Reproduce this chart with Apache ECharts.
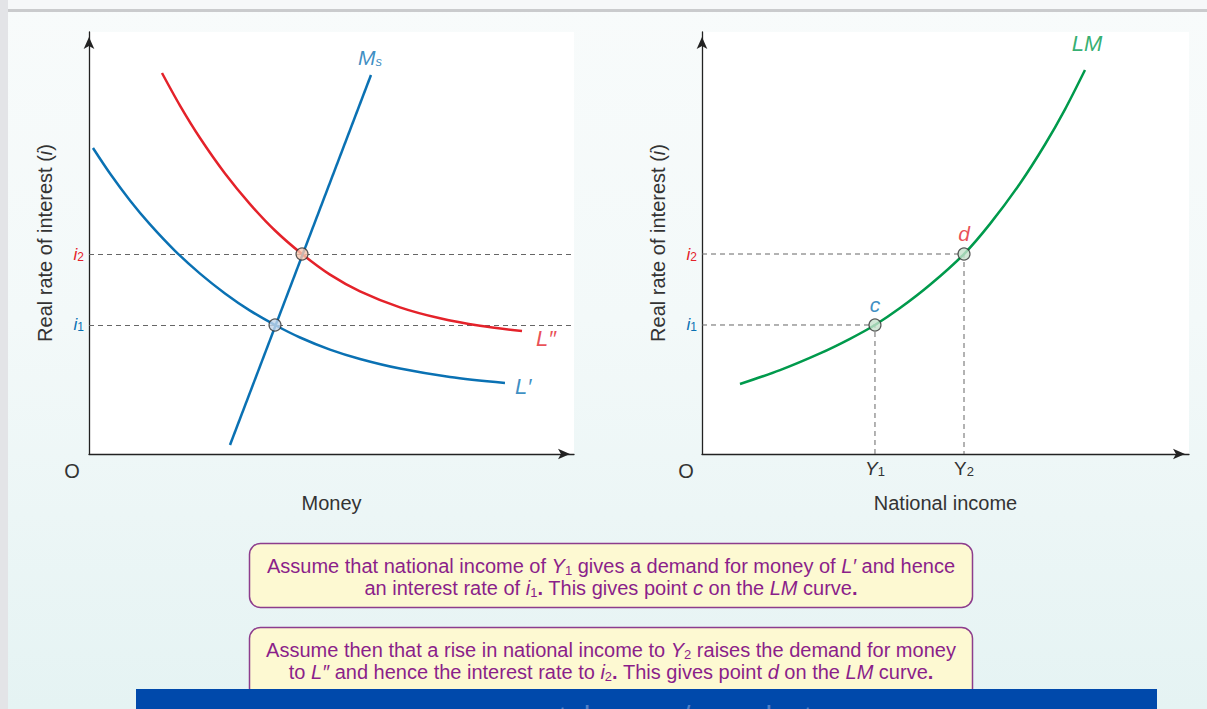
<!DOCTYPE html>
<html><head><meta charset="utf-8">
<script src="https://cdn.jsdelivr.net/npm/echarts@6/dist/echarts.min.js"></script>
<style>
html,body{margin:0;padding:0;width:1207px;height:709px;overflow:hidden;}
#bg{position:absolute;left:0;top:0;width:1207px;height:709px;background:linear-gradient(#f8fbfb 0%, #f3f9f9 45%, #e5f3f3 100%);}
#topstrip{position:absolute;left:0;top:0;width:1207px;height:9px;background:#f6f8f9;}
#topline{position:absolute;left:0;top:9px;width:1207px;height:3px;background:#cacbcd;}
#leftband{position:absolute;left:0;top:0;width:8px;height:709px;background:#e3e4e7;}
#chart{position:absolute;left:0;top:0;width:1207px;height:709px;}
</style></head>
<body>
<div id="bg"></div><div id="topstrip"></div><div id="topline"></div><div id="leftband"></div>
<div id="chart"></div>
<script>
// ---- data (axis units 0..100) ----
const axisMin = 0, axisMax = 100;
const lDoublePrime = [[15.05,90.28],[18.76,82.56],[22.89,74.88],[28.04,66.47],[33.20,59.22],[38.35,52.96],[43.92,47.39],[49.69,42.51],[55.88,38.55],[64.12,34.76],[72.37,32.16],[80.62,30.38],[89.28,29.12]];
const lPrime = [[0.82,72.51],[4.33,66.47],[8.45,60.09],[12.58,54.41],[17.73,48.15],[22.89,42.75],[28.04,38.06],[33.20,33.98],[38.35,30.57],[43.51,27.61],[49.69,24.74],[55.88,22.51],[64.12,20.24],[74.43,18.25],[85.77,16.82]];
const moneySupply = [[29.07,2.13],[58.14,89.81]];
const lmCurve = [[7.80,16.59],[16.02,19.88],[24.23,23.84],[30.39,27.30],[35.52,30.57],[40.66,34.57],[46.82,40.09],[53.80,47.39],[59.14,54.53],[65.30,64.10],[70.43,73.34],[74.54,81.68],[78.64,91.00]];
const i1 = 30.57, i2 = 47.39;
const Y1 = 35.52, Y2 = 53.80;
const moneyPoints = [[38.35, i1], [43.92, i2]];
const lmPoints = [[Y1, i1], [Y2, i2]];
const yTickValues = [i1, i2];
const xTickValues = [Y1, Y2];
const yAxisTitle = 'Real rate of interest ({it|i})';
const leftXTitle = 'Money';
const rightXTitle = 'National income';

// ---- styles ----
const FONT = '"Liberation Sans", Arial, sans-serif';
const BLUE = '#0a71b3', RED = '#e4222a', GREEN = '#009a4c', DARK = '#333';
const PURPLE = '#8b1f8a';

const chart = echarts.init(document.getElementById('chart'), null, {renderer: 'svg'});

function axisLineStyle(offset) {
  return {show: true, lineStyle: {color: '#222', width: 1.3}, symbol: ['none', 'arrow'], symbolSize: [8, 12], symbolOffset: [0, offset]};
}
const yLabelRich = {
  r: {color: RED, fontStyle: 'italic', fontSize: 17, fontFamily: FONT},
  rs: {color: RED, fontSize: 12, fontFamily: FONT, verticalAlign: 'bottom', lineHeight: 12},
  b: {color: BLUE, fontStyle: 'italic', fontSize: 17, fontFamily: FONT},
  bs: {color: BLUE, fontSize: 12, fontFamily: FONT, verticalAlign: 'bottom', lineHeight: 12}
};
function yLabelFmt(v) {
  if (Math.abs(v - i2) < 1e-6) return '{r|i}{rs|2}';
  if (Math.abs(v - i1) < 1e-6) return '{b|i}{bs|1}';
  return '';
}
function yAxisCfg(gi) {
  return {
    type: 'value', gridIndex: gi, min: axisMin, max: axisMax,
    axisLine: axisLineStyle(-5), axisTick: {show: false}, splitLine: {show: false},
    axisLabel: {customValues: yTickValues, formatter: yLabelFmt, rich: yLabelRich, margin: 5},
    name: yAxisTitle, nameLocation: 'middle', nameGap: 34,
    nameTextStyle: {fontSize: 20, color: DARK, fontFamily: FONT, rich: {it: {fontStyle: 'italic', fontSize: 20, color: DARK, fontFamily: FONT}}}
  };
}

const boxRich = {
  t: {fill: PURPLE, fontSize: 20, fontFamily: FONT, lineHeight: 22},
  ti: {fill: PURPLE, fontSize: 20, fontFamily: FONT, fontStyle: 'italic', lineHeight: 22},
  tb: {fill: PURPLE, fontSize: 20, fontFamily: FONT, fontWeight: 'bold', lineHeight: 22},
  ts: {fill: PURPLE, fontSize: 13, fontFamily: FONT, lineHeight: 13, verticalAlign: 'bottom'}
};
const box1Text = '{t|Assume that national income of }{ti|Y}{ts|1}{t| gives a demand for money of }{ti|L′}{t| and hence}\n{t|an interest rate of }{ti|i}{ts|1}{tb|.}{t| This gives point }{ti|c}{t| on the }{ti|LM}{t| curve}{tb|.}';
const box2Text = '{t|Assume then that a rise in national income to }{ti|Y}{ts|2}{t| raises the demand for money}\n{t|to }{ti|L″}{t| and hence the interest rate to }{ti|i}{ts|2}{tb|.}{t| This gives point }{ti|d}{t| on the }{ti|LM}{t| curve}{tb|.}';

function labelPoint(point, xi, text, color, pos, dist, offset, size, rich) {
  return {
    type: 'scatter', xAxisIndex: xi, yAxisIndex: xi, symbolSize: 0, silent: true, z: 6,
    data: [point],
    label: {show: true, position: pos, distance: dist, offset: offset, formatter: text, color: color, fontFamily: FONT, fontStyle: 'italic', fontSize: size, rich: rich || {}}
  };
}
const dashStyle = {color: '#666', width: 1, type: [5, 4]};

const option = {
  backgroundColor: 'transparent',
  animation: false,
  grid: [
    {left: 89, top: 32, width: 485, height: 422, show: true, backgroundColor: '#fff', borderWidth: 0},
    {left: 702, top: 32, width: 487, height: 422, show: true, backgroundColor: '#fff', borderWidth: 0}
  ],
  xAxis: [
    {type: 'value', gridIndex: 0, min: axisMin, max: axisMax, axisLine: axisLineStyle(-4), axisTick: {show: false}, splitLine: {show: false}, axisLabel: {show: false},
     name: leftXTitle, nameLocation: 'middle', nameGap: 39, nameTextStyle: {fontSize: 20, color: DARK, fontFamily: FONT}},
    {type: 'value', gridIndex: 1, min: axisMin, max: axisMax, axisLine: axisLineStyle(-4), axisTick: {show: false}, splitLine: {show: false},
     axisLabel: {customValues: xTickValues, margin: 5,
       formatter: v => Math.abs(v - Y1) < 1e-6 ? '{yi|Y}{ys|1}' : '{y|Y}{ys|2}',
       rich: {yi: {fontSize: 19, fontStyle: 'italic', color: DARK, fontFamily: FONT}, y: {fontSize: 19, color: DARK, fontFamily: FONT}, ys: {fontSize: 13, color: DARK, fontFamily: FONT, verticalAlign: 'bottom', lineHeight: 13}}},
     name: rightXTitle, nameLocation: 'middle', nameGap: 39, nameTextStyle: {fontSize: 20, color: DARK, fontFamily: FONT}}
  ],
  yAxis: [yAxisCfg(0), yAxisCfg(1)],
  series: [
    {type: 'line', name: 'L″', xAxisIndex: 0, yAxisIndex: 0, data: lDoublePrime, smooth: 0.3, showSymbol: false, lineStyle: {color: RED, width: 2.5}, z: 3},
    {type: 'line', name: 'L′', xAxisIndex: 0, yAxisIndex: 0, data: lPrime, smooth: 0.3, showSymbol: false, lineStyle: {color: BLUE, width: 2.5}, z: 3},
    {type: 'line', name: 'Ms', xAxisIndex: 0, yAxisIndex: 0, data: moneySupply, showSymbol: false, lineStyle: {color: BLUE, width: 2.5}, z: 3,
     markLine: {silent: true, symbol: 'none', label: {show: false}, lineStyle: dashStyle, z: 2, data: [{yAxis: i1}, {yAxis: i2}]}},
    {type: 'scatter', xAxisIndex: 0, yAxisIndex: 0, symbolSize: 12, z: 5,
     data: [{value: moneyPoints[0], itemStyle: {color: '#c3d6ea'}}, {value: moneyPoints[1], itemStyle: {color: '#f7c7ae'}}],
     itemStyle: {borderColor: '#333', borderWidth: 1.2}},
    labelPoint(moneySupply[1], 0, '{m|M}{s|s}', BLUE, 'top', 7, [-1, 0], 21, {m: {fontSize: 21, fontStyle: 'italic', color: BLUE, fontFamily: FONT}, s: {fontSize: 13, color: BLUE, fontFamily: FONT, verticalAlign: 'bottom', lineHeight: 13}}),
    labelPoint(lDoublePrime[lDoublePrime.length - 1], 0, 'L″', RED, 'right', 14, [0, 7], 22),
    labelPoint(lPrime[lPrime.length - 1], 0, 'L′', BLUE, 'right', 10, [0, 3], 22),

    {type: 'line', name: 'LM', xAxisIndex: 1, yAxisIndex: 1, data: lmCurve, smooth: 0.3, showSymbol: false, lineStyle: {color: GREEN, width: 2.5}, z: 3},
    {type: 'line', xAxisIndex: 1, yAxisIndex: 1, data: [[axisMin, i1], [Y1, i1], [Y1, axisMin]], showSymbol: false, lineStyle: dashStyle, z: 2, silent: true},
    {type: 'line', xAxisIndex: 1, yAxisIndex: 1, data: [[axisMin, i2], [Y2, i2], [Y2, axisMin]], showSymbol: false, lineStyle: dashStyle, z: 2, silent: true},
    {type: 'scatter', xAxisIndex: 1, yAxisIndex: 1, symbolSize: 12, z: 5,
     data: [
       {value: lmPoints[0], label: {show: true, formatter: 'c', color: BLUE}},
       {value: lmPoints[1], label: {show: true, formatter: 'd', color: RED}}
     ],
     label: {position: 'top', distance: 3, fontSize: 21, fontStyle: 'italic', fontFamily: FONT},
     itemStyle: {color: '#c7e1cc', borderColor: '#333', borderWidth: 1.2}},
    labelPoint(lmCurve[lmCurve.length - 1], 1, 'LM', GREEN, 'top', 15, [2, 0], 22)
  ],
  graphic: [
    {type: 'text', x: 72, y: 471, style: {text: 'O', fill: DARK, font: '20px ' + FONT, align: 'center', verticalAlign: 'middle'}},
    {type: 'text', x: 686, y: 471, style: {text: 'O', fill: DARK, font: '20px ' + FONT, align: 'center', verticalAlign: 'middle'}},
    {type: 'rect', z: 1, shape: {x: 249.5, y: 543.5, width: 723, height: 64, r: 11}, style: {fill: '#fdf9d2', stroke: '#8d3d8d', lineWidth: 1.5}},
    {type: 'text', z: 2, x: 611, y: 577, style: {text: box1Text, rich: boxRich, align: 'center', verticalAlign: 'middle'}},
    {type: 'rect', z: 1, shape: {x: 249.5, y: 627.5, width: 723, height: 72, r: 11}, style: {fill: '#fdf9d2', stroke: '#8d3d8d', lineWidth: 1.5}},
    {type: 'text', z: 2, x: 611, y: 661, style: {text: box2Text, rich: boxRich, align: 'center', verticalAlign: 'middle'}},
    {type: 'rect', z: 5, shape: {x: 136, y: 689, width: 1021, height: 20}, style: {fill: '#0049ab'}},
    {type: 'text', z: 6, x: 647, y: 701, style: {text: 'www.youtube.com/megalecture', fill: '#4f80c9', font: '30px ' + FONT, align: 'center', verticalAlign: 'top'}}
  ]
};
chart.setOption(option);
</script>
</body></html>
